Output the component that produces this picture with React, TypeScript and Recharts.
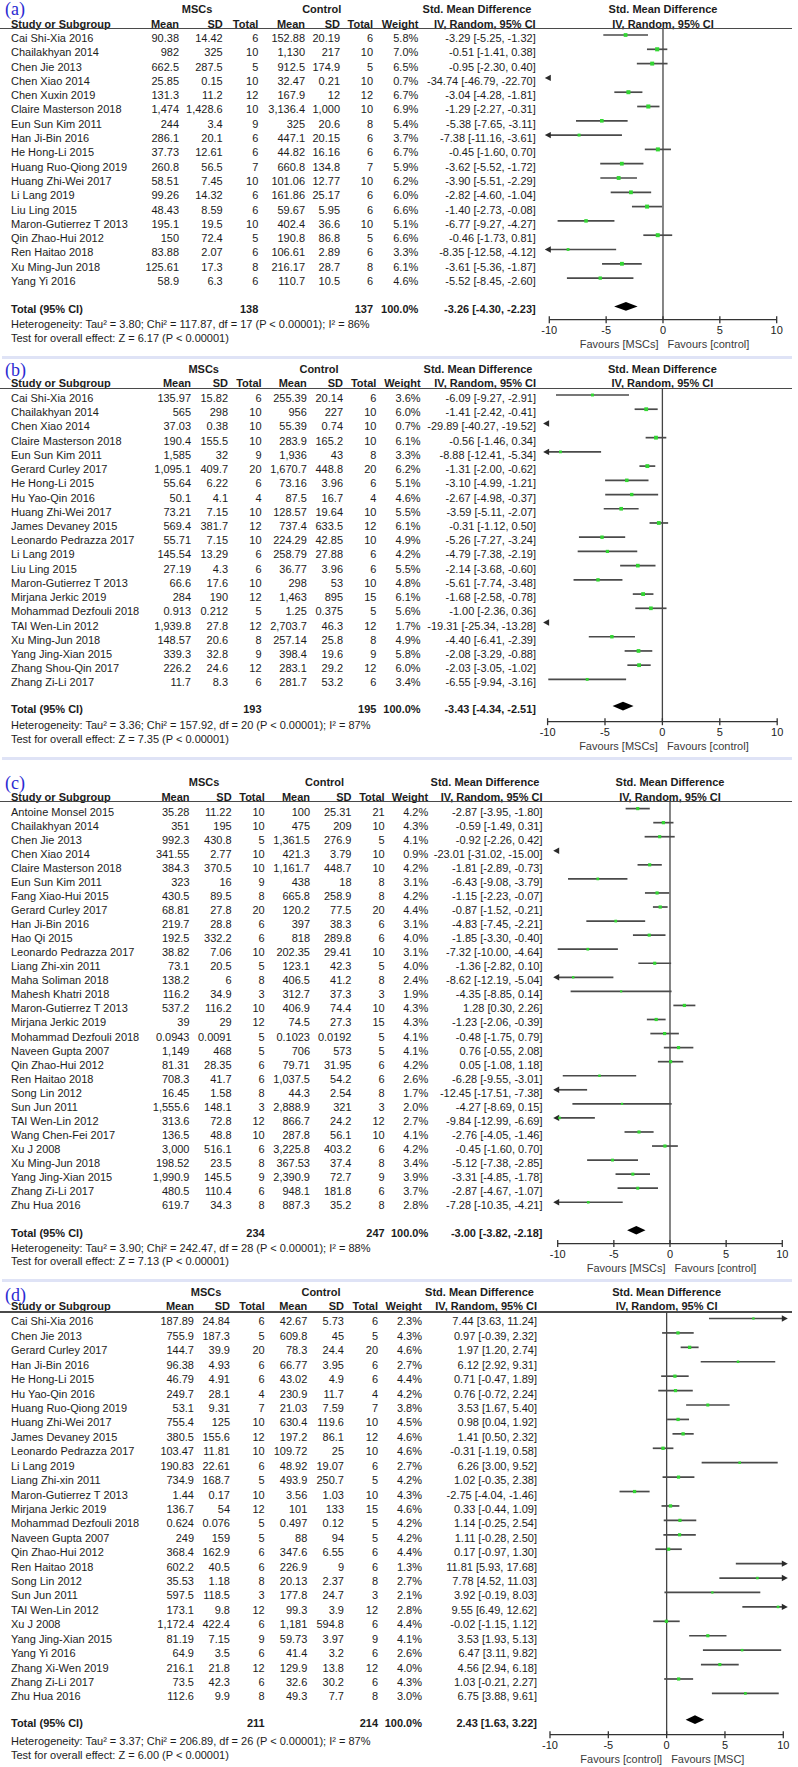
import React from 'react';
import { ScatterChart, Scatter, XAxis, YAxis, ReferenceLine, ReferenceDot, ReferenceArea } from 'recharts';

type Row = [string, number, number, number, number, number, number, number, number, number, number];
// [study, MSC mean, MSC SD, MSC total, control mean, control SD, control total, weight %, SMD, CI low, CI high]

const rowsA: Row[] = [
  ['Cai Shi-Xia 2016', 90.38, 14.42, 6, 152.88, 20.19, 6, 5.8, -3.29, -5.25, -1.32],
  ['Chailakhyan 2014', 982, 325, 10, 1130, 217, 10, 7.0, -0.51, -1.41, 0.38],
  ['Chen Jie 2013', 662.5, 287.5, 5, 912.5, 174.9, 5, 6.5, -0.95, -2.30, 0.40],
  ['Chen Xiao 2014', 25.85, 0.15, 10, 32.47, 0.21, 10, 0.7, -34.74, -46.79, -22.70],
  ['Chen Xuxin 2019', 131.3, 11.2, 12, 167.9, 12, 12, 6.7, -3.04, -4.28, -1.81],
  ['Claire Masterson 2018', 1474, 1428.6, 10, 3136.4, 1000, 10, 6.9, -1.29, -2.27, -0.31],
  ['Eun Sun Kim 2011', 244, 3.4, 9, 325, 20.6, 8, 5.4, -5.38, -7.65, -3.11],
  ['Han Ji-Bin 2016', 286.1, 20.1, 6, 447.1, 20.15, 6, 3.7, -7.38, -11.16, -3.61],
  ['He Hong-Li 2015', 37.73, 12.61, 6, 44.82, 16.16, 6, 6.7, -0.45, -1.60, 0.70],
  ['Huang Ruo-Qiong 2019', 260.8, 56.5, 7, 660.8, 134.8, 7, 5.9, -3.62, -5.52, -1.72],
  ['Huang Zhi-Wei 2017', 58.51, 7.45, 10, 101.06, 12.77, 10, 6.2, -3.90, -5.51, -2.29],
  ['Li Lang 2019', 99.26, 14.32, 6, 161.86, 25.17, 6, 6.0, -2.82, -4.60, -1.04],
  ['Liu Ling 2015', 48.43, 8.59, 6, 59.67, 5.95, 6, 6.6, -1.40, -2.73, -0.08],
  ['Maron-Gutierrez T 2013', 195.1, 19.5, 10, 402.4, 36.6, 10, 5.1, -6.77, -9.27, -4.27],
  ['Qin Zhao-Hui 2012', 150, 72.4, 5, 190.8, 86.8, 5, 6.6, -0.46, -1.73, 0.81],
  ['Ren Haitao 2018', 83.88, 2.07, 6, 106.61, 2.89, 6, 3.3, -8.35, -12.58, -4.12],
  ['Xu Ming-Jun 2018', 125.61, 17.3, 8, 216.17, 28.7, 8, 6.1, -3.61, -5.36, -1.87],
  ['Yang Yi 2016', 58.9, 6.3, 6, 110.7, 10.5, 6, 4.6, -5.52, -8.45, -2.60],
];
const totalA = [138, 137, 100.0, -3.26, -4.30, -2.23];
const hetA = ['Heterogeneity: Tau² = 3.80; Chi² = 117.87, df = 17 (P < 0.00001); I² = 86%', 'Test for overall effect: Z = 6.17 (P < 0.00001)'];

const rowsB: Row[] = [
  ['Cai Shi-Xia 2016', 135.97, 15.82, 6, 255.39, 20.14, 6, 3.6, -6.09, -9.27, -2.91],
  ['Chailakhyan 2014', 565, 298, 10, 956, 227, 10, 6.0, -1.41, -2.42, -0.41],
  ['Chen Xiao 2014', 37.03, 0.38, 10, 55.39, 0.74, 10, 0.7, -29.89, -40.27, -19.52],
  ['Claire Masterson 2018', 190.4, 155.5, 10, 283.9, 165.2, 10, 6.1, -0.56, -1.46, 0.34],
  ['Eun Sun Kim 2011', 1585, 32, 9, 1936, 43, 8, 3.3, -8.88, -12.41, -5.34],
  ['Gerard Curley 2017', 1095.1, 409.7, 20, 1670.7, 448.8, 20, 6.2, -1.31, -2.00, -0.62],
  ['He Hong-Li 2015', 55.64, 6.22, 6, 73.16, 3.96, 6, 5.1, -3.10, -4.99, -1.21],
  ['Hu Yao-Qin 2016', 50.1, 4.1, 4, 87.5, 16.7, 4, 4.6, -2.67, -4.98, -0.37],
  ['Huang Zhi-Wei 2017', 73.21, 7.15, 10, 128.57, 19.64, 10, 5.5, -3.59, -5.11, -2.07],
  ['James Devaney 2015', 569.4, 381.7, 12, 737.4, 633.5, 12, 6.1, -0.31, -1.12, 0.50],
  ['Leonardo Pedrazza 2017', 55.71, 7.15, 10, 224.29, 42.85, 10, 4.9, -5.26, -7.27, -3.24],
  ['Li Lang 2019', 145.54, 13.29, 6, 258.79, 27.88, 6, 4.2, -4.79, -7.38, -2.19],
  ['Liu Ling 2015', 27.19, 4.3, 6, 36.77, 3.96, 6, 5.5, -2.14, -3.68, -0.60],
  ['Maron-Gutierrez T 2013', 66.6, 17.6, 10, 298, 53, 10, 4.8, -5.61, -7.74, -3.48],
  ['Mirjana Jerkic 2019', 284, 190, 12, 1463, 895, 15, 6.1, -1.68, -2.58, -0.78],
  ['Mohammad Dezfouli 2018', 0.913, 0.212, 5, 1.25, 0.375, 5, 5.6, -1.00, -2.36, 0.36],
  ['TAI Wen-Lin 2012', 1939.8, 27.8, 12, 2703.7, 46.3, 12, 1.7, -19.31, -25.34, -13.28],
  ['Xu Ming-Jun 2018', 148.57, 20.6, 8, 257.14, 25.8, 8, 4.9, -4.40, -6.41, -2.39],
  ['Yang Jing-Xian 2015', 339.3, 32.8, 9, 398.4, 19.6, 9, 5.8, -2.08, -3.29, -0.88],
  ['Zhang Shou-Qin 2017', 226.2, 24.6, 12, 283.1, 29.2, 12, 6.0, -2.03, -3.05, -1.02],
  ['Zhang Zi-Li 2017', 11.7, 8.3, 6, 281.7, 53.2, 6, 3.4, -6.55, -9.94, -3.16],
];
const totalB = [193, 195, 100.0, -3.43, -4.34, -2.51];
const hetB = ['Heterogeneity: Tau² = 3.36; Chi² = 157.92, df = 20 (P < 0.00001); I² = 87%', 'Test for overall effect: Z = 7.35 (P < 0.00001)'];

const rowsC: Row[] = [
  ['Antoine Monsel 2015', 35.28, 11.22, 10, 100, 25.31, 21, 4.2, -2.87, -3.95, -1.80],
  ['Chailakhyan 2014', 351, 195, 10, 475, 209, 10, 4.3, -0.59, -1.49, 0.31],
  ['Chen Jie 2013', 992.3, 430.8, 5, 1361.5, 276.9, 5, 4.1, -0.92, -2.26, 0.42],
  ['Chen Xiao 2014', 341.55, 2.77, 10, 421.3, 3.79, 10, 0.9, -23.01, -31.02, -15.00],
  ['Claire Masterson 2018', 384.3, 370.5, 10, 1161.7, 448.7, 10, 4.2, -1.81, -2.89, -0.73],
  ['Eun Sun Kim 2011', 323, 16, 9, 438, 18, 8, 3.1, -6.43, -9.08, -3.79],
  ['Fang Xiao-Hui 2015', 430.5, 89.5, 8, 665.8, 258.9, 8, 4.2, -1.15, -2.23, -0.07],
  ['Gerard Curley 2017', 68.81, 27.8, 20, 120.2, 77.5, 20, 4.4, -0.87, -1.52, -0.21],
  ['Han Ji-Bin 2016', 219.7, 28.8, 6, 397, 38.3, 6, 3.1, -4.83, -7.45, -2.21],
  ['Hao Qi 2015', 192.5, 332.2, 6, 818, 289.8, 6, 4.0, -1.85, -3.30, -0.40],
  ['Leonardo Pedrazza 2017', 38.82, 7.06, 10, 202.35, 29.41, 10, 3.1, -7.32, -10.00, -4.64],
  ['Liang Zhi-xin 2011', 73.1, 20.5, 5, 123.1, 42.3, 5, 4.0, -1.36, -2.82, 0.10],
  ['Maha Soliman 2018', 138.2, 6, 8, 406.5, 41.2, 8, 2.4, -8.62, -12.19, -5.04],
  ['Mahesh Khatri 2018', 116.2, 34.9, 3, 312.7, 37.3, 3, 1.9, -4.35, -8.85, 0.14],
  ['Maron-Gutierrez T 2013', 537.2, 116.2, 10, 406.9, 74.4, 10, 4.3, 1.28, 0.30, 2.26],
  ['Mirjana Jerkic 2019', 39, 29, 12, 74.5, 27.3, 15, 4.3, -1.23, -2.06, -0.39],
  ['Mohammad Dezfouli 2018', 0.0943, 0.0091, 5, 0.1023, 0.0192, 5, 4.1, -0.48, -1.75, 0.79],
  ['Naveen Gupta 2007', 1149, 468, 5, 706, 573, 5, 4.1, 0.76, -0.55, 2.08],
  ['Qin Zhao-Hui 2012', 81.31, 28.35, 6, 79.71, 31.95, 6, 4.2, 0.05, -1.08, 1.18],
  ['Ren Haitao 2018', 708.3, 41.7, 6, 1037.5, 54.2, 6, 2.6, -6.28, -9.55, -3.01],
  ['Song Lin 2012', 16.45, 1.58, 8, 44.3, 2.54, 8, 1.7, -12.45, -17.51, -7.38],
  ['Sun Jun 2011', 1555.6, 148.1, 3, 2888.9, 321, 3, 2.0, -4.27, -8.69, 0.15],
  ['TAI Wen-Lin 2012', 313.6, 72.8, 12, 866.7, 24.2, 12, 2.7, -9.84, -12.99, -6.69],
  ['Wang Chen-Fei 2017', 136.5, 48.8, 10, 287.8, 56.1, 10, 4.1, -2.76, -4.05, -1.46],
  ['Xu J 2008', 3000, 516.1, 6, 3225.8, 403.2, 6, 4.2, -0.45, -1.60, 0.70],
  ['Xu Ming-Jun 2018', 198.52, 23.5, 8, 367.53, 37.4, 8, 3.4, -5.12, -7.38, -2.85],
  ['Yang Jing-Xian 2015', 1990.9, 145.5, 9, 2390.9, 72.7, 9, 3.9, -3.31, -4.85, -1.78],
  ['Zhang Zi-Li 2017', 480.5, 110.4, 6, 948.1, 181.8, 6, 3.7, -2.87, -4.67, -1.07],
  ['Zhu Hua 2016', 619.7, 34.3, 8, 887.3, 35.2, 8, 2.8, -7.28, -10.35, -4.21],
];
const totalC = [234, 247, 100.0, -3.00, -3.82, -2.18];
const hetC = ['Heterogeneity: Tau² = 3.90; Chi² = 242.47, df = 28 (P < 0.00001); I² = 88%', 'Test for overall effect: Z = 7.13 (P < 0.00001)'];

const rowsD: Row[] = [
  ['Cai Shi-Xia 2016', 187.89, 24.84, 6, 42.67, 5.73, 6, 2.3, 7.44, 3.63, 11.24],
  ['Chen Jie 2013', 755.9, 187.3, 5, 609.8, 45, 5, 4.3, 0.97, -0.39, 2.32],
  ['Gerard Curley 2017', 144.7, 39.9, 20, 78.3, 24.4, 20, 4.6, 1.97, 1.20, 2.74],
  ['Han Ji-Bin 2016', 96.38, 4.93, 6, 66.77, 3.95, 6, 2.7, 6.12, 2.92, 9.31],
  ['He Hong-Li 2015', 46.79, 4.91, 6, 43.02, 4.9, 6, 4.4, 0.71, -0.47, 1.89],
  ['Hu Yao-Qin 2016', 249.7, 28.1, 4, 230.9, 11.7, 4, 4.2, 0.76, -0.72, 2.24],
  ['Huang Ruo-Qiong 2019', 53.1, 9.31, 7, 21.03, 7.59, 7, 3.8, 3.53, 1.67, 5.40],
  ['Huang Zhi-Wei 2017', 755.4, 125, 10, 630.4, 119.6, 10, 4.5, 0.98, 0.04, 1.92],
  ['James Devaney 2015', 380.5, 155.6, 12, 197.2, 86.1, 12, 4.6, 1.41, 0.50, 2.32],
  ['Leonardo Pedrazza 2017', 103.47, 11.81, 10, 109.72, 25, 10, 4.6, -0.31, -1.19, 0.58],
  ['Li Lang 2019', 190.83, 22.61, 6, 48.92, 19.07, 6, 2.7, 6.26, 3.00, 9.52],
  ['Liang Zhi-xin 2011', 734.9, 168.7, 5, 493.9, 250.7, 5, 4.2, 1.02, -0.35, 2.38],
  ['Maron-Gutierrez T 2013', 1.44, 0.17, 10, 3.56, 1.03, 10, 4.3, -2.75, -4.04, -1.46],
  ['Mirjana Jerkic 2019', 136.7, 54, 12, 101, 133, 15, 4.6, 0.33, -0.44, 1.09],
  ['Mohammad Dezfouli 2018', 0.624, 0.076, 5, 0.497, 0.12, 5, 4.2, 1.14, -0.25, 2.54],
  ['Naveen Gupta 2007', 249, 159, 5, 88, 94, 5, 4.2, 1.11, -0.28, 2.50],
  ['Qin Zhao-Hui 2012', 368.4, 162.9, 6, 347.6, 6.55, 6, 4.4, 0.17, -0.97, 1.30],
  ['Ren Haitao 2018', 602.2, 40.5, 6, 226.9, 9, 6, 1.3, 11.81, 5.93, 17.68],
  ['Song Lin 2012', 35.53, 1.18, 8, 20.13, 2.37, 8, 2.7, 7.78, 4.52, 11.03],
  ['Sun Jun 2011', 597.5, 118.5, 3, 177.8, 24.7, 3, 2.1, 3.92, -0.19, 8.03],
  ['TAI Wen-Lin 2012', 173.1, 9.8, 12, 99.3, 3.9, 12, 2.8, 9.55, 6.49, 12.62],
  ['Xu J 2008', 1172.4, 422.4, 6, 1181, 594.8, 6, 4.4, -0.02, -1.15, 1.12],
  ['Yang Jing-Xian 2015', 81.19, 7.15, 9, 59.73, 3.97, 9, 4.1, 3.53, 1.93, 5.13],
  ['Yang Yi 2016', 64.9, 3.5, 6, 41.4, 3.2, 6, 2.6, 6.47, 3.11, 9.82],
  ['Zhang Xi-Wen 2019', 216.1, 21.8, 12, 129.9, 13.8, 12, 4.0, 4.56, 2.94, 6.18],
  ['Zhang Zi-Li 2017', 73.5, 42.3, 6, 32.6, 30.2, 6, 4.3, 1.03, -0.21, 2.27],
  ['Zhu Hua 2016', 112.6, 9.9, 8, 49.3, 7.7, 8, 3.0, 6.75, 3.88, 9.61],
];
const totalD = [211, 214, 100.0, 2.43, 1.63, 3.22];
const hetD = ['Heterogeneity: Tau² = 3.37; Chi² = 206.89, df = 26 (P < 0.00001); I² = 87%', 'Test for overall effect: Z = 6.00 (P < 0.00001)'];

const xTicks = [-10, -5, 0, 5, 10];
const favoursAC = ['Favours [MSCs]', 'Favours [control]'];
const favoursD = ['Favours [control]', 'Favours [MSC]'];

const FONT = '"Liberation Sans", Arial, Helvetica, sans-serif';
const TXT = '#1c1c1c';
const AXIS_H = 33;

type Cols = { mean: number; sd: number; n: number; cmean: number; csd: number; cn: number; w: number; ci: number; msc: number; ctl: number; smd: number };
type Lay = { ruleY: number; line1: number; sp: number; gap: number; axisY: number; xL: number; xR: number; h1: number; h2: number; het: number; test: number; lab: number; sep?: number; cols: Cols };

const layA: Lay = { ruleY: 28.3, line1: 35.3, sp: 14.3, gap: 1.98, axisY: 320, xL: 549.3, xR: 776.7, h1: 9.3, h2: 23.5, het: 324.3, test: 338.3, lab: 9, sep: 357.5,
  cols: { mean: 179, sd: 222.7, n: 258.3, cmean: 305, csd: 340, cn: 373, w: 418.3, ci: 535.7, msc: 197, ctl: 321.7, smd: 477 } };
const layB: Lay = { ruleY: 388.3, line1: 395.3, sp: 14.22, gap: 1.88, axisY: 722, xL: 547.6, xR: 777.2, h1: 369, h2: 383.3, het: 725, test: 739.3, lab: 370, sep: 758.3,
  cols: { mean: 191, sd: 228, n: 261.6, cmean: 306.8, csd: 343, cn: 376.4, w: 420.6, ci: 536, msc: 203.7, ctl: 319, smd: 478 } };
const layC: Lay = { ruleY: 801.7, line1: 808.3, sp: 14.06, gap: 1.99, axisY: 1243.3, xL: 557.7, xR: 782.3, h1: 782.3, h2: 796.7, het: 1247.5, test: 1261.3, lab: 783, sep: 1280.7,
  cols: { mean: 189.5, sd: 231.6, n: 264.7, cmean: 310, csd: 351.5, cn: 384.6, w: 428.2, ci: 542.5, msc: 204, ctl: 324.6, smd: 485 } };
const layD: Lay = { ruleY: 1312, line1: 1318.5, sp: 14.42, gap: 1.82, axisY: 1734.7, xL: 550, xR: 783.3, h1: 1292, h2: 1306.4, het: 1740.5, test: 1755, lab: 1295,
  cols: { mean: 194, sd: 230, n: 264.7, cmean: 307.3, csd: 344, cn: 378, w: 422, ci: 537, msc: 206, ctl: 321, smd: 479.5 } };

const fmt = (v: number) => v.toLocaleString('en-US', { maximumFractionDigits: 4 });
const ciText = (e: number, l: number, h: number) => `${e.toFixed(2)} [${l.toFixed(2)}, ${h.toFixed(2)}]`;

function T({ x, y, children, align = 'left', bold = false, size = 11, color = TXT }: any) {
  const w = 420;
  let left = x;
  if (align === 'right') left = x - w;
  if (align === 'center') left = x - w / 2;
  return (
    <div style={{ position: 'absolute', left, top: y - 7, width: w, height: 14, lineHeight: '14px', fontSize: size, fontFamily: FONT, fontWeight: bold ? 700 : 400, textAlign: align, color, whiteSpace: 'nowrap' }}>
      {children}
    </div>
  );
}

const leftArrow = (p: any) => (
  <polygon points={`${p.cx - 4.5},${p.cy} ${p.cx + 1.5},${p.cy - 3.2} ${p.cx + 1.5},${p.cy + 3.2}`} fill="#2a2a2a" />
);
const rightArrow = (p: any) => (
  <polygon points={`${p.cx + 4.5},${p.cy} ${p.cx - 1.5},${p.cy - 3.2} ${p.cx - 1.5},${p.cy + 3.2}`} fill="#2a2a2a" />
);
const square = (p: any) => {
  const s = Math.max(1.4, Math.sqrt(p.payload?.w ?? 4) * 1.55);
  return <rect x={p.cx - s / 2} y={p.cy - s / 2} width={s} height={s} fill="#33d633" />;
};

function Panel({ rows, total, het, lay, label, fav }: { rows: Row[]; total: number[]; het: string[]; lay: Lay; label: string; fav: string[] }) {
  const n = rows.length;
  const totalPos = n + lay.gap;
  const d0 = 1 - (lay.line1 - lay.ruleY) / lay.sp;
  const d1 = 1 + (lay.axisY - lay.line1) / lay.sp;
  const chartH = lay.axisY - lay.ruleY + AXIS_H;
  const c = lay.cols;
  const zeroX = (lay.xL + lay.xR) / 2;
  const data = rows.map((r, i) => ({ pos: i + 1, est: r[8], lo: r[9], hi: r[10], w: r[7] }));
  const pts = data.filter((d) => d.est >= -10 && d.est <= 10);
  const yTicks = [...data.map((d) => d.pos), totalPos];

  const txt = (key: string, x: number, y: number, s: string, anchor: 'start' | 'end', bold: boolean) => (
    <text key={key} x={x} y={y} textAnchor={anchor} fontSize={11} fontFamily={FONT} fontWeight={bold ? 700 : 400} fill={TXT}>{s}</text>
  );

  const rowTick = (p: any) => {
    const v = p.payload.value;
    const by = p.y + 7;
    if (Math.abs(v - totalPos) < 1e-6) {
      return (
        <g>
          {txt('n', 11, by, 'Total (95% CI)', 'start', true)}
          {txt('t1', c.n, by, String(total[0]), 'end', true)}
          {txt('t2', c.cn, by, String(total[1]), 'end', true)}
          {txt('w', c.w, by, total[2].toFixed(1) + '%', 'end', true)}
          {txt('ci', c.ci, by, ciText(total[3], total[4], total[5]), 'end', true)}
        </g>
      );
    }
    const r = rows[Math.round(v) - 1];
    if (!r) return <g />;
    return (
      <g>
        {txt('n', 11, by, r[0], 'start', false)}
        {txt('m', c.mean, by, fmt(r[1]), 'end', false)}
        {txt('s', c.sd, by, fmt(r[2]), 'end', false)}
        {txt('t', c.n, by, fmt(r[3]), 'end', false)}
        {txt('cm', c.cmean, by, fmt(r[4]), 'end', false)}
        {txt('cs', c.csd, by, fmt(r[5]), 'end', false)}
        {txt('ct', c.cn, by, fmt(r[6]), 'end', false)}
        {txt('w', c.w, by, r[7].toFixed(1) + '%', 'end', false)}
        {txt('ci', c.ci, by, ciText(r[8], r[9], r[10]), 'end', false)}
      </g>
    );
  };

  const xTick = (p: any) => {
    const v = p.payload.value;
    return (
      <g>
        <line x1={p.x} x2={p.x} y1={p.y - 3.5} y2={p.y + 3.5} stroke="#333" strokeWidth={1.3} />
        <text x={p.x} y={p.y + 14} textAnchor="middle" fontSize={11} fontFamily={FONT} fill={TXT}>{v}</text>
        {v === 0 && (
          <>
            <text x={p.x - 4.5} y={p.y + 28} textAnchor="end" fontSize={11} fontFamily={FONT} fill="#3a3a3a">{fav[0]}</text>
            <text x={p.x + 4.5} y={p.y + 28} textAnchor="start" fontSize={11} fontFamily={FONT} fill="#3a3a3a">{fav[1]}</text>
          </>
        )}
      </g>
    );
  };

  const [tEst, tLo, tHi] = [total[3], total[4], total[5]];
  const diamond = (p: any) => {
    const cy = p.y + p.height / 2;
    const hh = Math.abs(p.height) / 2;
    const x0 = Math.min(p.x, p.x + p.width);
    const w = Math.abs(p.width);
    const px = x0 + (w * (tEst - tLo)) / (tHi - tLo);
    return <polygon points={`${x0},${cy} ${px},${cy - hh} ${x0 + w},${cy} ${px},${cy + hh}`} fill="#000" />;
  };

  return (
    <>
      <div style={{ position: 'absolute', left: 5, top: lay.lab - 11, height: 22, lineHeight: '22px', fontSize: 18, fontFamily: '"Liberation Serif", "Times New Roman", serif', color: '#2a2ad2' }}>{label}</div>
      <T x={c.msc} y={lay.h1} align="center" bold>MSCs</T>
      <T x={c.ctl} y={lay.h1} align="center" bold>Control</T>
      <T x={c.smd} y={lay.h1} align="center" bold>Std. Mean Difference</T>
      <T x={zeroX} y={lay.h1} align="center" bold>Std. Mean Difference</T>
      <T x={11} y={lay.h2} bold>Study or Subgroup</T>
      <T x={c.mean} y={lay.h2} align="right" bold>Mean</T>
      <T x={c.sd} y={lay.h2} align="right" bold>SD</T>
      <T x={c.n} y={lay.h2} align="right" bold>Total</T>
      <T x={c.cmean} y={lay.h2} align="right" bold>Mean</T>
      <T x={c.csd} y={lay.h2} align="right" bold>SD</T>
      <T x={c.cn} y={lay.h2} align="right" bold>Total</T>
      <T x={c.w} y={lay.h2} align="right" bold>Weight</T>
      <T x={c.ci} y={lay.h2} align="right" bold>IV, Random, 95% CI</T>
      <T x={zeroX} y={lay.h2} align="center" bold>IV, Random, 95% CI</T>
      <div style={{ position: 'absolute', left: 0, top: lay.ruleY - 0.8, width: 792, height: 1.6, background: '#4a4a4a' }} />
      <T x={11} y={lay.het}>{het[0]}</T>
      <T x={11} y={lay.test}>{het[1]}</T>
      {lay.sep !== undefined && (
        <div style={{ position: 'absolute', left: 2, top: lay.sep - 1.5, width: 790, height: 3, background: '#dfe3f6' }} />
      )}
      <div style={{ position: 'absolute', left: 0, top: lay.ruleY, width: 798, height: chartH }}>
        <ScatterChart width={798} height={chartH} margin={{ top: 0, right: 798 - lay.xR, bottom: 0, left: 0 }}>
          <XAxis
            type="number"
            dataKey="est"
            domain={[-10, 10]}
            ticks={xTicks}
            interval={0}
            allowDataOverflow
            height={AXIS_H}
            tickSize={0}
            tickMargin={0}
            tickLine={false}
            axisLine={{ stroke: '#333', strokeWidth: 1.3 }}
            tick={xTick}
          />
          <YAxis
            type="number"
            dataKey="pos"
            domain={[d0, d1]}
            reversed
            allowDataOverflow
            width={lay.xL}
            ticks={yTicks}
            interval={0}
            tickSize={0}
            tickMargin={0}
            tickLine={false}
            axisLine={false}
            tick={rowTick}
          />
          <ReferenceLine x={0} stroke="#444" strokeWidth={1.3} ifOverflow="visible" />
          {data.map((d) => {
            const out = d.hi < -10 || d.lo > 10;
            const a = Math.max(d.lo, -10);
            const b = Math.min(d.hi, 10);
            return (
              <React.Fragment key={'r' + d.pos}>
                {!out && (
                  <ReferenceLine
                    segment={[{ x: a, y: d.pos }, { x: b, y: d.pos }]}
                    stroke="#4a4a4a"
                    strokeWidth={1.7}
                    ifOverflow="visible"
                  />
                )}
                {d.lo < -10 && d.hi >= -10 && <ReferenceDot x={-10} y={d.pos} ifOverflow="visible" shape={leftArrow} />}
                {d.hi < -10 && <ReferenceDot x={-10} y={d.pos} ifOverflow="visible" shape={leftArrow} />}
                {d.hi > 10 && <ReferenceDot x={10} y={d.pos} ifOverflow="visible" shape={rightArrow} />}
              </React.Fragment>
            );
          })}
          <ReferenceArea x1={tLo} x2={tHi} y1={totalPos - 0.3} y2={totalPos + 0.3} ifOverflow="visible" shape={diamond} />
          <Scatter data={pts} isAnimationActive={false} shape={square} />
        </ScatterChart>
      </div>
    </>
  );
}

export default function App() {
  return (
    <div style={{ position: 'absolute', left: 0, top: 0, width: 798, height: 1767, overflow: 'hidden', background: '#fff' }}>
      <Panel rows={rowsA} total={totalA} het={hetA} lay={layA} label="(a)" fav={favoursAC} />
      <Panel rows={rowsB} total={totalB} het={hetB} lay={layB} label="(b)" fav={favoursAC} />
      <Panel rows={rowsC} total={totalC} het={hetC} lay={layC} label="(c)" fav={favoursAC} />
      <Panel rows={rowsD} total={totalD} het={hetD} lay={layD} label="(d)" fav={favoursD} />
    </div>
  );
}
